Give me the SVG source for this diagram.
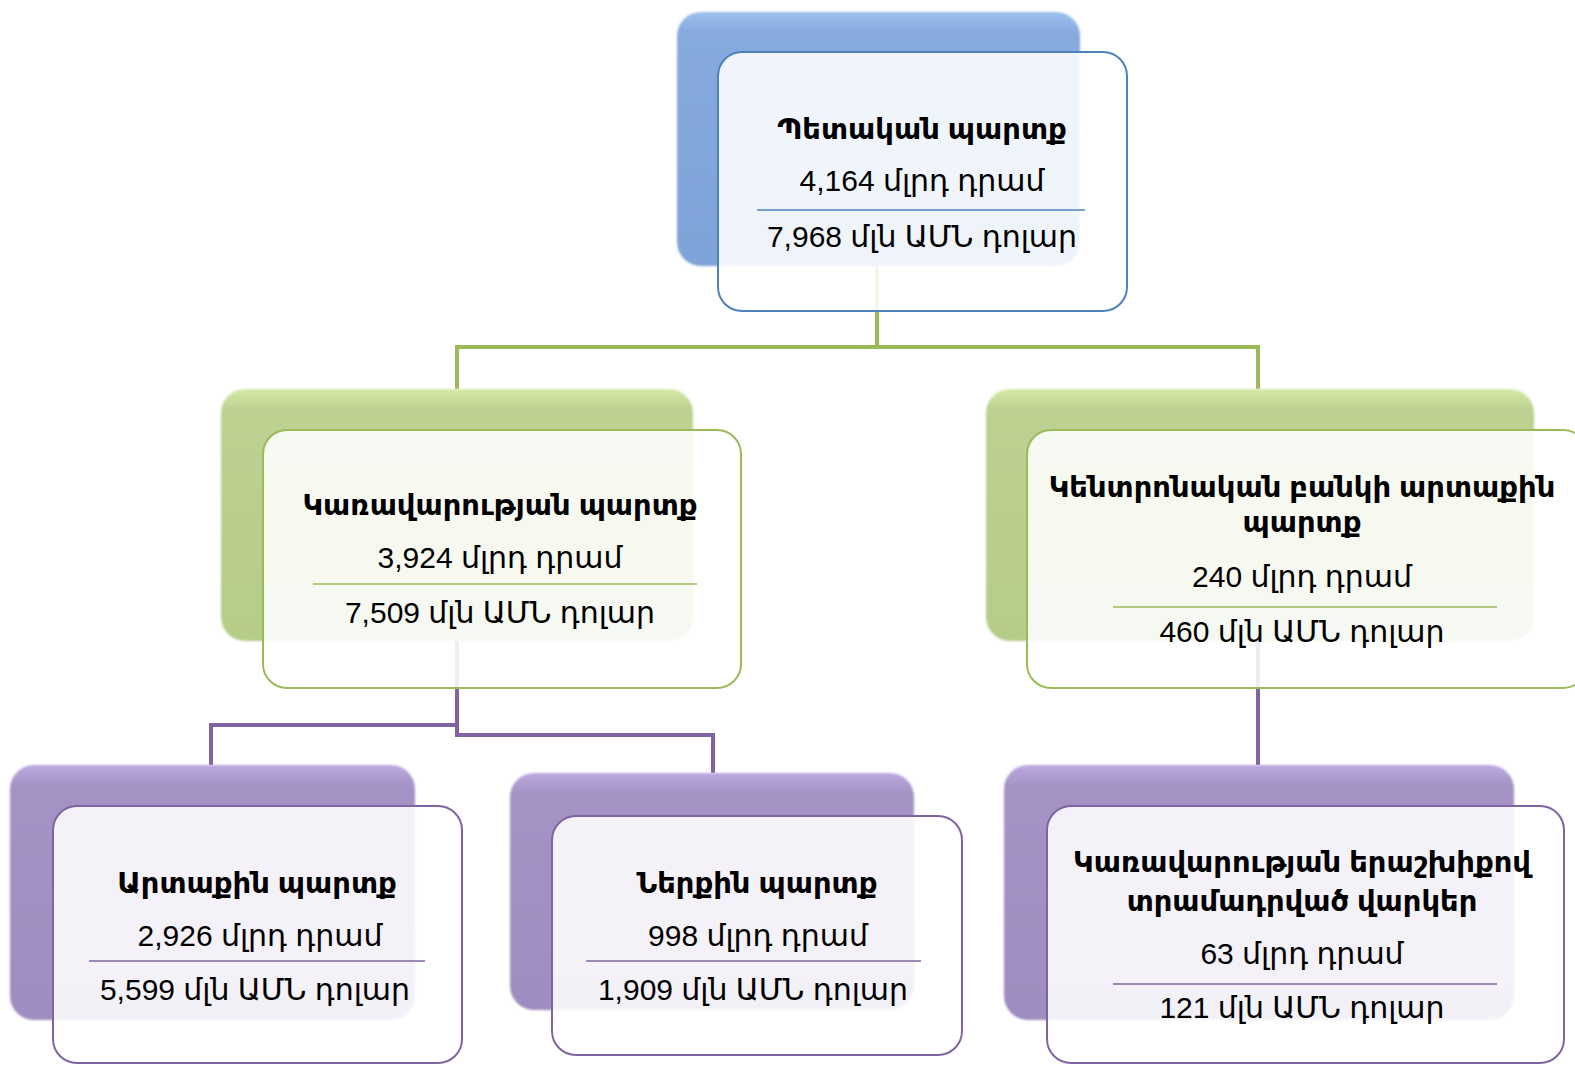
<svg xmlns="http://www.w3.org/2000/svg" width="1575" height="1065" viewBox="0 0 1575 1065">
<defs>
<linearGradient id="gBlue" x1="0" y1="0" x2="0" y2="1"><stop offset="0" stop-color="#9CC0EE"/><stop offset="0.08" stop-color="#86AADD"/><stop offset="1" stop-color="#7EA3D8"/></linearGradient>
<linearGradient id="gGreen" x1="0" y1="0" x2="0" y2="1"><stop offset="0" stop-color="#D4EAA6"/><stop offset="0.08" stop-color="#BDD192"/><stop offset="1" stop-color="#B6CC89"/></linearGradient>
<linearGradient id="gPurple" x1="0" y1="0" x2="0" y2="1"><stop offset="0" stop-color="#BCA9E0"/><stop offset="0.08" stop-color="#A693C6"/><stop offset="1" stop-color="#9F8CC0"/></linearGradient>
<filter id="soft" x="-5%" y="-5%" width="110%" height="110%"><feGaussianBlur stdDeviation="1.2"/></filter>
</defs>
<style>
.back{filter:url(#soft)}
.front{fill:#FFFFFF;fill-opacity:0.88;stroke-width:2}
.fb{stroke:#4F81BD}.fg{stroke:#9BBB59}.fp{stroke:#8064A2}
.t{font-family:"Liberation Sans","DejaVu Sans",sans-serif;font-size:30px;fill:#000;text-anchor:middle}
.b{font-weight:bold;font-size:29px}
.sb{stroke:#4F81BD;stroke-width:1.5}.sg{stroke:#9BBB59;stroke-width:1.5}.sp{stroke:#8064A2;stroke-width:1.5}
.cg{fill:none;stroke:#9BBB59;stroke-width:4}.cp{fill:none;stroke:#8064A2;stroke-width:4}
</style>
<g id="connectors">
<path class="cg" d="M877,266 V347 H457 V389"/>
<path class="cg" d="M877,347 H1258 V389"/>
<path class="cp" d="M457,641 V725 H211 V765"/>
<path class="cp" d="M457,641 V735 H713 V773"/>
<path class="cp" d="M1258,641 V765"/>
</g>
<g id="node-state-debt">
<rect class="back" x="677" y="12" width="403" height="254" rx="24" fill="url(#gBlue)"/>
<rect class="front fb" x="718" y="52" width="409" height="259" rx="24"/>
<text class="t b" x="922" y="139">Պետական պարտք</text>
<text class="t" x="922" y="191">4,164 մլրդ դրամ</text>
<line class="sb" x1="757" y1="210" x2="1085" y2="210"/>
<text class="t" x="922" y="247">7,968 մլն ԱՄՆ դոլար</text>
</g>
<g id="node-government-debt">
<rect class="back" x="221" y="389" width="472" height="252" rx="24" fill="url(#gGreen)"/>
<rect class="front fg" x="263" y="430" width="478" height="258" rx="24"/>
<text class="t b" x="500" y="515">Կառավարության պարտք</text>
<text class="t" x="500" y="568">3,924 մլրդ դրամ</text>
<line class="sg" x1="313" y1="584" x2="697" y2="584"/>
<text class="t" x="500" y="623">7,509 մլն ԱՄՆ դոլար</text>
</g>
<g id="node-central-bank-debt">
<rect class="back" x="986" y="389" width="548" height="252" rx="24" fill="url(#gGreen)"/>
<rect class="front fg" x="1027" y="430" width="560" height="258" rx="24"/>
<text class="t b" x="1302" y="497">Կենտրոնական բանկի արտաքին</text>
<text class="t b" x="1302" y="532">պարտք</text>
<text class="t" x="1302" y="587">240 մլրդ դրամ</text>
<line class="sg" x1="1113" y1="607" x2="1497" y2="607"/>
<text class="t" x="1302" y="642">460 մլն ԱՄՆ դոլար</text>
</g>
<g id="node-external-debt">
<rect class="back" x="10" y="765" width="405" height="255" rx="24" fill="url(#gPurple)"/>
<rect class="front fp" x="53" y="806" width="409" height="257" rx="24"/>
<text class="t b" x="257" y="893">Արտաքին պարտք</text>
<text class="t" x="260" y="946">2,926 մլրդ դրամ</text>
<line class="sp" x1="89" y1="961" x2="425" y2="961"/>
<text class="t" x="255" y="1000">5,599 մլն ԱՄՆ դոլար</text>
</g>
<g id="node-domestic-debt">
<rect class="back" x="510" y="773" width="404" height="237" rx="24" fill="url(#gPurple)"/>
<rect class="front fp" x="552" y="816" width="410" height="239" rx="24"/>
<text class="t b" x="757" y="893">Ներքին պարտք</text>
<text class="t" x="758" y="946">998 մլրդ դրամ</text>
<line class="sp" x1="586" y1="961" x2="921" y2="961"/>
<text class="t" x="753" y="1000">1,909 մլն ԱՄՆ դոլար</text>
</g>
<g id="node-guaranteed-loans">
<rect class="back" x="1004" y="765" width="510" height="255" rx="24" fill="url(#gPurple)"/>
<rect class="front fp" x="1047" y="806" width="517" height="257" rx="24"/>
<text class="t b" x="1302" y="872">Կառավարության երաշխիքով</text>
<text class="t b" x="1302" y="911">տրամադրված վարկեր</text>
<text class="t" x="1302" y="964">63 մլրդ դրամ</text>
<line class="sp" x1="1113" y1="984" x2="1497" y2="984"/>
<text class="t" x="1302" y="1018">121 մլն ԱՄՆ դոլար</text>
</g>
</svg>
